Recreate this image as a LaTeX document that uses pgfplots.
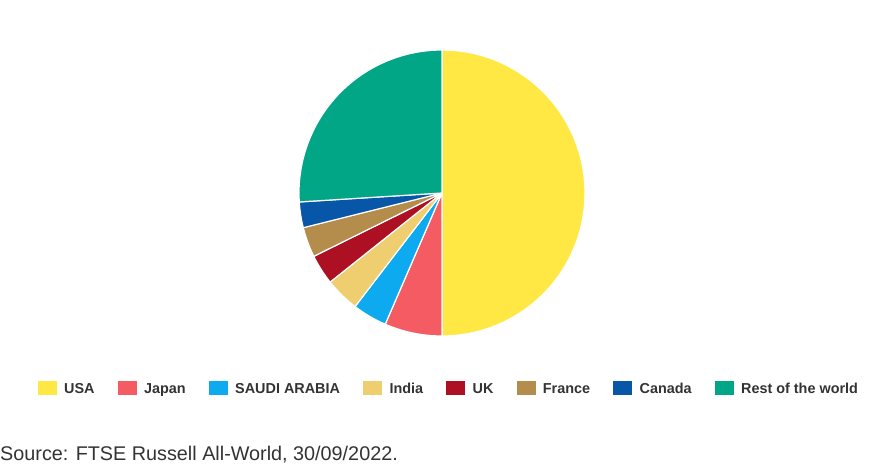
\documentclass[border=0pt]{standalone}
\usepackage{fontspec}
\setmainfont{Liberation Sans}
\usepackage{pgfplots}
\usepackage{pgfplotstable}
\pgfplotsset{compat=1.18}

\definecolor{cusa}{HTML}{FFE843}
\definecolor{cjapan}{HTML}{F45B63}
\definecolor{csaudi}{HTML}{0DAAF0}
\definecolor{cindia}{HTML}{EECE6E}
\definecolor{cuk}{HTML}{AC1022}
\definecolor{cfrance}{HTML}{B48C4C}
\definecolor{ccanada}{HTML}{0856A8}
\definecolor{crest}{HTML}{00A686}
\definecolor{txt}{HTML}{333333}

% share of the index, percent
\pgfplotstableread[col sep=comma]{
label,value,col
USA,50.0,cusa
Japan,6.5,cjapan
SAUDI ARABIA,3.9,csaudi
India,3.9,cindia
UK,3.4,cuk
France,3.4,cfrance
Canada,2.9,ccanada
Rest of the world,26.0,crest
}\pietbl

\begin{document}
\begin{tikzpicture}
\begin{axis}[
  hide axis,
  scale only axis,
  width=874bp, height=471bp,
  xmin=0, xmax=874, ymin=0, ymax=471,
  clip=false,
  legend columns=8,
  legend image code/.code={\fill[#1, draw=none] (0bp,-7bp) rectangle (19bp,7bp);},
  legend style={
    at={(0.043478,0.176221)}, anchor=west,
    draw=none, fill=none, inner sep=0pt, outer sep=0pt,
    font=\bfseries\fontsize{14.4bp}{16bp}\selectfont, text=txt,
    nodes={inner sep=0pt, text height=12bp, text depth=0bp},
    /tikz/every odd column/.append style={column sep=7.2bp},
    /tikz/every even column/.append style={column sep=23.3bp},
  },
]
\path (axis cs:0,0) rectangle (axis cs:874,471);

\pgfplotsextra{
  \pgfplotstablegetrowsof{\pietbl}
  \pgfmathtruncatemacro\nrows{\pgfplotsretval-1}
  \gdef\cum{0}
  \foreach \i in {0,...,\nrows}{
    \pgfplotstablegetelem{\i}{value}\of\pietbl \let\v\pgfplotsretval
    \pgfplotstablegetelem{\i}{col}\of\pietbl \let\c\pgfplotsretval
    \pgfmathsetmacro\aa{90-3.6*\cum}
    \pgfmathsetmacro\bb{90-3.6*(\cum+\v)}
    \fill[fill=\c, draw=white, line width=1.2bp, line join=round]
      (axis cs:442,278) -- ++(\aa:143bp)
      arc[start angle=\aa, end angle=\bb, radius=143bp] -- cycle;
    \pgfmathsetmacro\nc{\cum+\v}\global\let\cum\nc
  }
}

\addlegendimage{fill=cusa}\addlegendentry{USA}
\addlegendimage{fill=cjapan}\addlegendentry{Japan}
\addlegendimage{fill=csaudi}\addlegendentry{SAUDI ARABIA}
\addlegendimage{fill=cindia}\addlegendentry{India}
\addlegendimage{fill=cuk}\addlegendentry{UK}
\addlegendimage{fill=cfrance}\addlegendentry{France}
\addlegendimage{fill=ccanada}\addlegendentry{Canada}
\addlegendimage{fill=crest}\addlegendentry{Rest of the world}

\node[anchor=base west, inner sep=0pt, text=txt,
      font=\fontsize{19.8bp}{24bp}\selectfont]
  at (axis cs:0,11) {Source: FTSE Russell All-World, 30/09/2022.};
\end{axis}
\end{tikzpicture}
\end{document}
